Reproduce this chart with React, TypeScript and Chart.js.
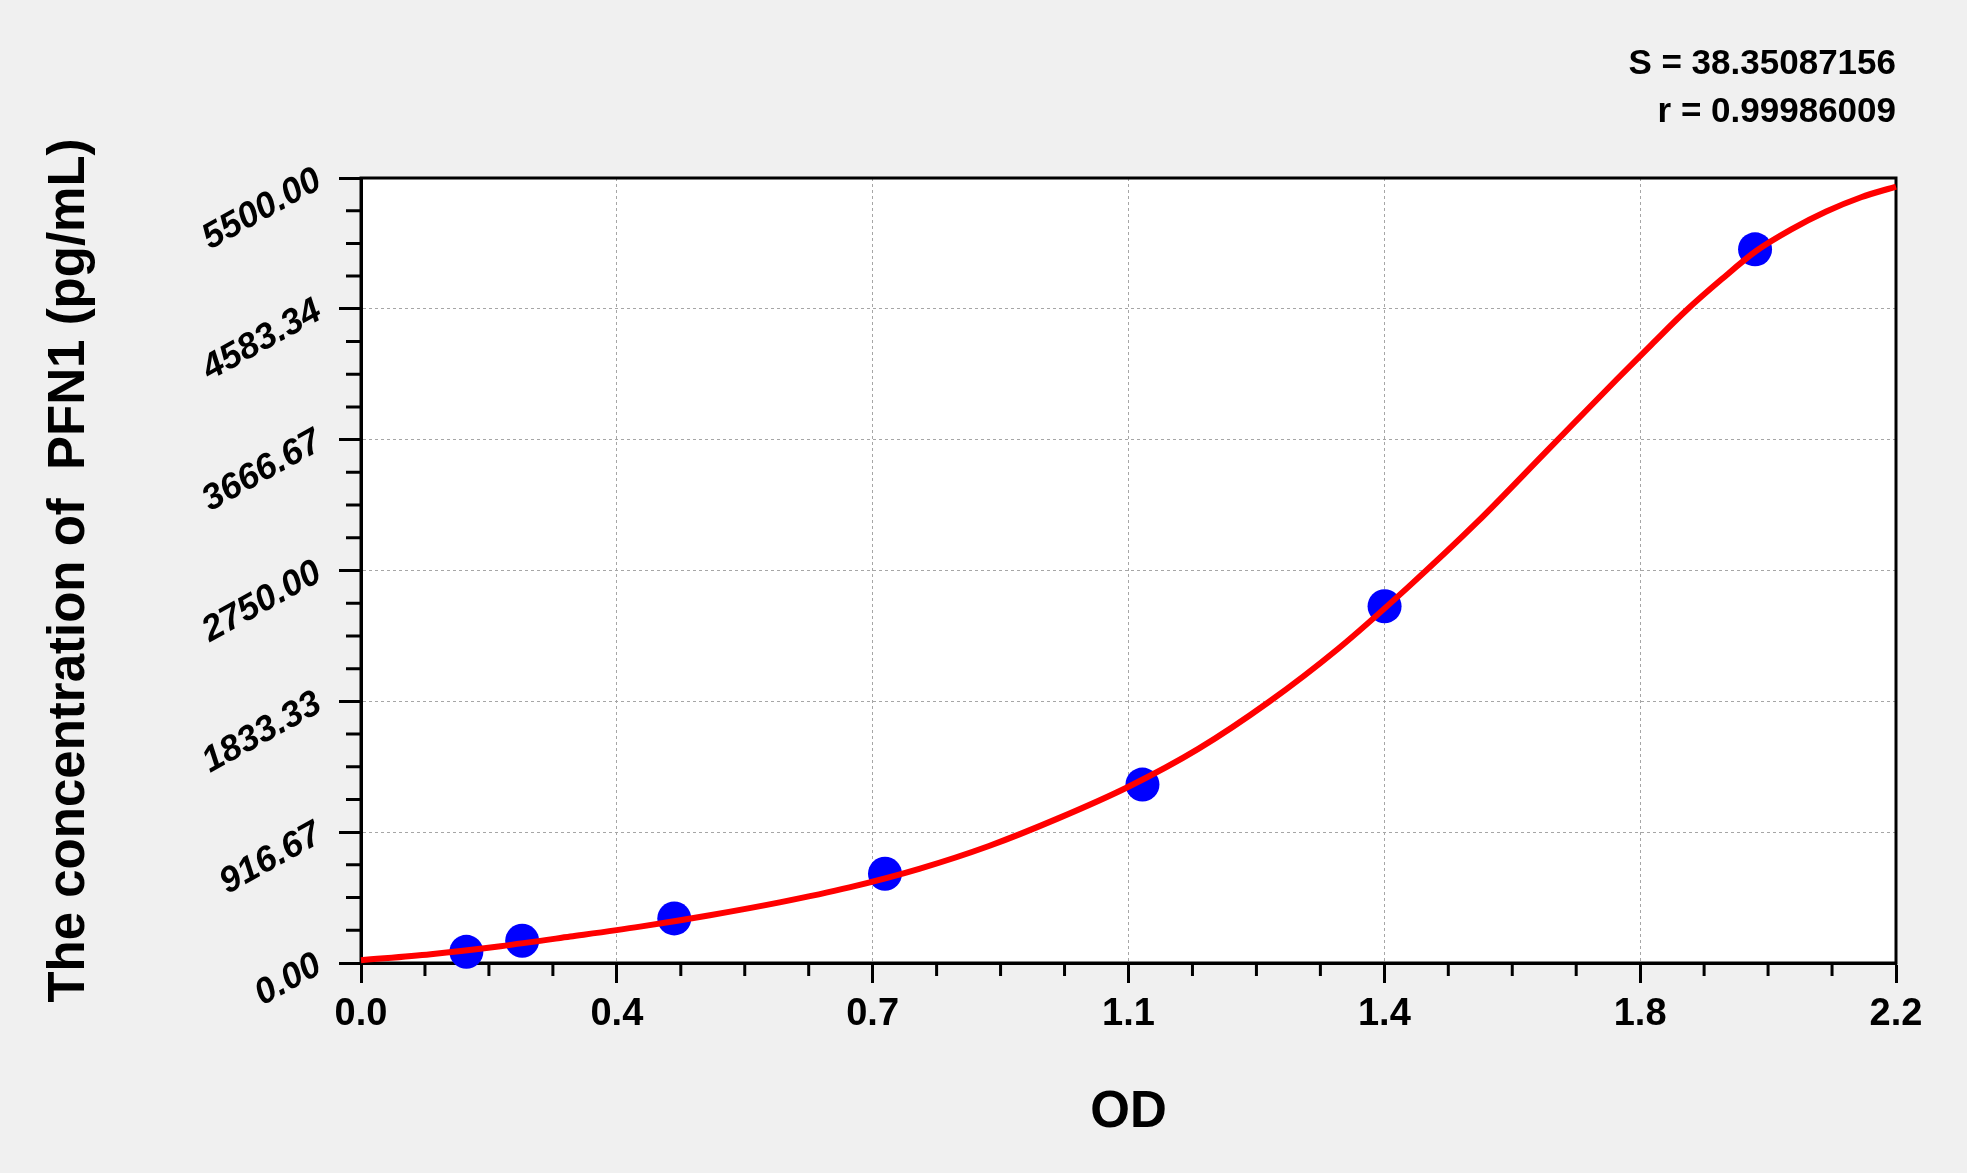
import React, { useEffect, useRef } from "react";
import { Chart, registerables } from "chart.js";

Chart.register(...registerables);

// standard points (OD, concentration)
const stdOD = [0.151, 0.231, 0.449, 0.751, 1.12, 1.467, 1.998];
const stdConc = [78.13, 156.25, 312.5, 625, 1250, 2500, 5000];

// fitted curve
const curveOD = [0, 0.1, 0.2, 0.3, 0.4, 0.5, 0.6, 0.7, 0.8, 0.9, 1.0, 1.1, 1.2, 1.3, 1.4, 1.5, 1.6, 1.7, 1.8, 1.85, 1.9, 1.95, 2.0, 2.05, 2.1, 2.15, 2.2];
const curveConc = [20, 62, 118, 185, 255, 335, 425, 530, 660, 820, 1015, 1235, 1500, 1825, 2200, 2630, 3090, 3590, 4090, 4335, 4575, 4790, 4990, 5140, 5265, 5365, 5440];

// axes
const xTickValues = [0, 0.3667, 0.7333, 1.1, 1.4667, 1.8333, 2.2];
const xTickLabels = ["0.0", "0.4", "0.7", "1.1", "1.4", "1.8", "2.2"];
const yTickValues = [0, 916.67, 1833.33, 2750, 3666.67, 4583.34, 5500];
const yTickLabels = ["0.00", "916.67", "1833.33", "2750.00", "3666.67", "4583.34", "5500.00"];
const minorPerMajor = 4;

const fitStats = ["S = 38.35087156", "r = 0.99986009"];
const xTitle = "OD";
const yTitle = "The concentration of  PFN1 (pg/mL)";

const FONT = "'Liberation Sans', Arial, sans-serif";

// white plot area, frame and minor ticks
const plotFrame = {
  id: "plotFrame",
  beforeDraw(chart: any) {
    const { ctx, chartArea: a } = chart;
    ctx.save();
    ctx.fillStyle = "#ffffff";
    ctx.fillRect(a.left, a.top, a.right - a.left, a.bottom - a.top);
    ctx.restore();
  },
  beforeDatasetsDraw(chart: any) {
    const { ctx, chartArea: a, scales } = chart;
    ctx.save();
    ctx.strokeStyle = "#000000";
    ctx.lineWidth = 3;
    ctx.strokeRect(a.left, a.top, a.right - a.left, a.bottom - a.top);
    ctx.beginPath();
    for (let i = 0; i < xTickValues.length - 1; i++) {
      for (let k = 1; k < minorPerMajor; k++) {
        const v = xTickValues[i] + ((xTickValues[i + 1] - xTickValues[i]) * k) / minorPerMajor;
        const px = scales.x.getPixelForValue(v);
        ctx.moveTo(px, a.bottom);
        ctx.lineTo(px, a.bottom + 13);
      }
    }
    for (let i = 0; i < yTickValues.length - 1; i++) {
      for (let k = 1; k < minorPerMajor; k++) {
        const v = yTickValues[i] + ((yTickValues[i + 1] - yTickValues[i]) * k) / minorPerMajor;
        const py = scales.y.getPixelForValue(v);
        ctx.moveTo(a.left, py);
        ctx.lineTo(a.left - 15, py);
      }
    }
    ctx.stroke();
    ctx.restore();
  },
};

const StandardCurve: React.FC = () => {
  const canvasRef = useRef<HTMLCanvasElement>(null);

  useEffect(() => {
    if (!canvasRef.current) return;
    const ctx = canvasRef.current.getContext("2d");
    if (!ctx) return;

    const chart = new Chart(ctx, {
      type: "scatter",
      data: {
        datasets: [
          {
            label: "fit",
            data: curveOD.map((x, i) => ({ x, y: curveConc[i] })),
            showLine: true,
            borderColor: "#ff0000",
            borderWidth: 6,
            pointRadius: 0,
            cubicInterpolationMode: "monotone",
            clip: false,
          },
          {
            label: "standards",
            data: stdOD.map((x, i) => ({ x, y: stdConc[i] })),
            pointRadius: 17,
            pointBackgroundColor: "#0000ff",
            pointBorderWidth: 0,
            clip: false,
          },
        ],
      },
      options: {
        animation: false,
        responsive: true,
        maintainAspectRatio: false,
        layout: { padding: { left: 0, right: 71, top: 0, bottom: 0 } },
        plugins: {
          legend: { display: false },
          tooltip: { enabled: false },
          title: {
            display: true,
            text: fitStats,
            align: "end",
            color: "#000000",
            font: { family: FONT, size: 35, weight: "bold", lineHeight: "48px" },
            padding: { top: 40, bottom: 42 },
          },
        },
        scales: {
          x: {
            type: "linear",
            min: 0,
            max: 2.2,
            afterBuildTicks: (s: any) => {
              s.ticks = xTickValues.map((value) => ({ value }));
            },
            afterFit: (s: any) => {
              s.height = 210;
            },
            ticks: {
              callback: (_v: any, i: number) => xTickLabels[i] ?? "",
              color: "#000000",
              font: { family: FONT, size: 38, weight: "bold" },
              padding: 9,
              autoSkip: false,
              minRotation: 0,
              maxRotation: 0,
            },
            grid: {
              color: "#a6a6a6",
              lineWidth: 1,
              tickLength: 20,
              tickColor: "#000000",
              tickWidth: 3,
            },
            border: { display: true, color: "#000000", width: 3, dash: [3, 3] },
            title: {
              display: true,
              text: xTitle,
              color: "#000000",
              font: { family: FONT, size: 51, weight: "bold" },
              padding: { top: 0, bottom: 29 },
            },
          },
          y: {
            type: "linear",
            min: 0,
            max: 5500,
            afterBuildTicks: (s: any) => {
              s.ticks = yTickValues.map((value) => ({ value }));
            },
            afterFit: (s: any) => {
              s.width = 361;
            },
            ticks: {
              callback: (_v: any, i: number) => yTickLabels[i] ?? "",
              color: "#000000",
              font: { family: FONT, size: 36, weight: "bold", style: "italic" },
              padding: 20,
              autoSkip: false,
              minRotation: 29,
              maxRotation: 29,
            },
            grid: {
              color: "#a6a6a6",
              lineWidth: 1,
              tickLength: 22,
              tickColor: "#000000",
              tickWidth: 3,
            },
            border: { display: true, color: "#000000", width: 3, dash: [3, 3] },
            title: {
              display: true,
              text: yTitle,
              color: "#000000",
              font: { family: FONT, size: 51, weight: "bold" },
              padding: { top: 39, bottom: 0 },
            },
          },
        },
      },
      plugins: [plotFrame],
    } as any);

    return () => {
      chart.destroy();
    };
  }, []);

  return (
    <div
      style={{
        position: "fixed",
        left: 0,
        top: 0,
        width: 1967,
        height: 1173,
        background: "#f0f0f0",
      }}
    >
      <canvas ref={canvasRef}></canvas>
    </div>
  );
};

export default function App() {
  return <StandardCurve />;
}
